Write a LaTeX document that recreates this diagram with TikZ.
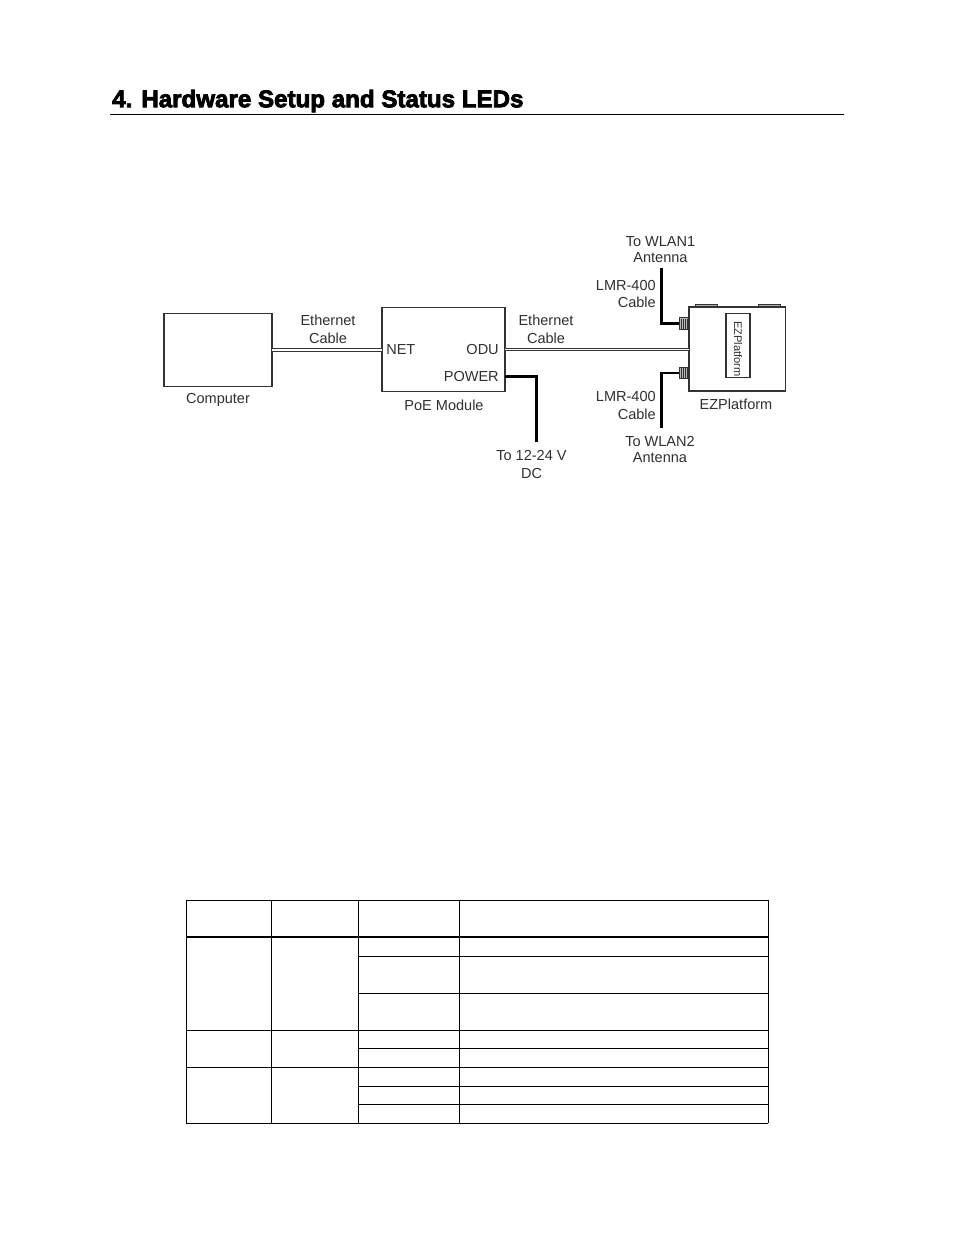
\documentclass[tikz,border=0pt]{standalone}
\usepackage{fontspec}
\setmainfont{Liberation Sans}
\newfontfamily\headfont[BoldFeatures={FakeBold=3.2}]{Liberation Sans}
\usetikzlibrary{calc}
\definecolor{ink}{HTML}{333333}
\definecolor{txt}{HTML}{303030}
\newcommand{\hwfont}{\fontsize{10.9pt}{13.5pt}\selectfont}
\tikzset{
  box/.style={draw=ink,line width=.85pt,fill=white,inner sep=0pt,outer sep=0pt},
  lab/.style={font=\hwfont,text=txt,inner sep=0pt,align=center},
  labtight/.style={lab,font=\fontsize{10.9pt}{12pt}\selectfont},
  labright/.style={lab,align=right,anchor=east},
  ethcable/.style={draw=ink,line width=.85pt,double=white,double distance=.9pt},
  thickcable/.style={draw=black,line width=2pt,line join=miter},
  rule/.style={draw=black,line width=.75pt},
  thickrule/.style={draw=black,line width=1.5pt},
  jack/.style={draw=ink,line width=.6pt,fill=gray!55,minimum width=7.2pt,minimum height=8.6pt,inner sep=0pt,outer sep=0pt},
  tab/.style={draw=ink,line width=.5pt,fill=gray!65,minimum width=16.5pt,minimum height=2pt,inner sep=0pt,outer sep=0pt}
}
\begin{document}
\begin{tikzpicture}[x=.75pt,y=-.75pt]
\useasboundingbox (0,0) rectangle (954,1235);
\fill[white] (0,0) rectangle (954,1235);
% heading
\node[anchor=west,inner sep=0pt,font={\headfont\bfseries\fontsize{18.1pt}{20pt}\selectfont}] (head) at (112,101) {4. Hardware Setup and Status LEDs};
\coordinate (ruleL) at (110,114.3);
\coordinate (ruleR) at (844,114.3);
\draw[rule] (ruleL) -- (ruleR);
% boxes
\node[box,minimum width=81pt,minimum height=54.5pt] (comp) at (218,350.2) {};
\node[box,minimum width=92.2pt,minimum height=63pt] (poe) at (443.5,349.8) {};
\node[tab] (tabA) at (706.7,305.5) {};
\node[tab] (tabB) at (769,305.5) {};
\node[box,minimum width=72.5pt,minimum height=63pt] (ez) at (737.3,349) {};
\node[box,minimum width=18pt,minimum height=48.3pt] (ezin) at (738,345.5) {};
\node[lab,rotate=-90,font=\fontsize{8.3pt}{10pt}\selectfont,text=txt] (ezt) at (738,349) {EZPlatform};
% jacks
\node[jack] (jackA) at (684,323.5) {};
\node[jack] (jackB) at (684,373) {};
\foreach \j in {jackA,jackB}{
  \foreach \d in {-3,-1,1,3}{
    \draw[ink,line width=.6pt] ($(\j.center)+(\d,-5)$) -- ($(\j.center)+(\d,5)$);
  }
}
% labels
\node[lab] (e1) at (328,329.5) {Ethernet\\Cable};
\node[lab] (e2) at (546,329.5) {Ethernet\\Cable};
\node[lab] (cl) at (218,399.5) {Computer};
\node[lab] (pl) at (444,405) {PoE Module};
\node[lab] (el) at (736,404) {EZPlatform};
\node[lab,anchor=west] (net) at (386,349.5) {NET};
\node[labright] (odu) at (499,349.5) {ODU};
\node[labright] (pow) at (499,376.5) {POWER};
\node[lab] (dc) at (531.5,464) {To 12-24 V\\DC};
\node[labtight] (w1) at (660.5,249.5) {To WLAN1\\Antenna};
\node[labtight] (w2) at (660,449.5) {To WLAN2\\Antenna};
\node[labright,font=\fontsize{10.9pt}{13pt}\selectfont] (l1) at (656,294) {LMR-400\\Cable};
\node[labright,font=\fontsize{10.9pt}{13pt}\selectfont] (l2) at (656,405.5) {LMR-400\\Cable};
% connectors
\coordinate (a1) at (661.8,268);
\coordinate (a2) at (661.8,427.7);
\coordinate (d1) at (536.8,442);
\draw[ethcable] (comp.east |- 0,350) -- (poe.west |- 0,350);
\draw[ethcable] (poe.east |- 0,349.5) -- (ez.west |- 0,349.5);
\draw[thickcable] (poe.east |- pow) -- (d1 |- pow) -- (d1);
\draw[thickcable] (a1) |- (jackA.west);
\draw[thickcable] (a2) |- (jackB.west);
% table
\foreach \x in {186.3,271.3,358.3,459.3,768.3}{
  \draw[rule] (\x,900.3) -- (\x,1123.3);
}
\draw[rule] (186.3,900.3) -- (768.3,900.3);
\draw[thickrule] (186.3,937) -- (768.3,937);
\foreach \y in {1030.3,1067.3,1123.3}{
  \draw[rule] (186.3,\y) -- (768.3,\y);
}
\foreach \y in {956.3,993.3,1048.3,1086.3,1104.3}{
  \draw[rule] (358.3,\y) -- (768.3,\y);
}
\end{tikzpicture}
\end{document}
